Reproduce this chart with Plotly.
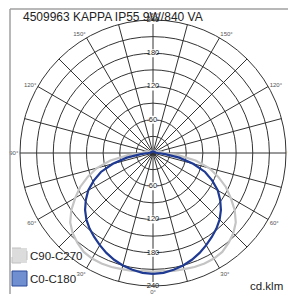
import plotly.graph_objects as go

TITLE = "4509963 KAPPA IP55 9W/840 VA"
UNIT = "cd.klm"
SERIES = ["C90-C270", "C0-C180"]

ANGLES = [0, 5, 10, 15, 20, 25, 30, 35, 40, 45, 50, 55, 60, 65, 70, 75, 80, 85, 90,
          95, 100, 105, 110, 120, 130, 140, 150, 160, 170, 180]
GRAY_R = [214, 214, 216, 217, 219, 220, 220, 218, 212, 205, 195, 180, 162, 145, 125, 105, 78, 45, 20,
          18, 15, 12, 9, 6, 5, 4, 4, 4, 4, 4]
BLUE_R = [218, 217, 214, 210, 205, 199, 192, 185, 178, 170, 160, 148, 135, 118, 100, 75, 48, 22, 9,
          6, 5, 4, 4, 3, 3, 3, 3, 3, 3, 3]

RADIAL_TICKS = [30, 60, 90, 120, 150, 180, 210, 240]
RADIAL_LABELS = [60, 120, 180, 240]
ANG_TICKS = list(range(0, 360, 15))
ANG_TEXT = [(f"{a if a <= 180 else 360 - a}°" if a % 30 == 0 else "") for a in ANG_TICKS]

def mirror(angles, rs):
    th = list(angles) + [360 - a for a in reversed(angles[:-1])]
    r = list(rs) + list(reversed(rs[:-1]))
    return th, r

fig = go.Figure()
th, r = mirror(ANGLES, GRAY_R)
fig.add_trace(go.Scatterpolar(theta=th, r=r, mode="lines",
                              line=dict(color="#c4c4c4", width=2.2), name=SERIES[0], showlegend=False))
th, r = mirror(ANGLES, BLUE_R)
fig.add_trace(go.Scatterpolar(theta=th, r=r, mode="lines",
                              line=dict(color="#1f3a93", width=2.2), name=SERIES[1], showlegend=False))

for ang in (180, 0):
    fig.add_trace(go.Scatterpolar(theta=[ang] * len(RADIAL_LABELS), r=RADIAL_LABELS,
                                  mode="markers+text", text=[str(v) for v in RADIAL_LABELS],
                                  marker=dict(symbol="square", size=8, color="white"),
                                  textposition="middle center",
                                  textfont=dict(family="Liberation Sans, Arial", size=7.5, color="#222"),
                                  showlegend=False, hoverinfo="skip"))

W, H = 288, 294
def px(x):
    return x / W
def py(y):
    return 1 - y / H

cx, cy, R = 153, 153, 133
fig.update_layout(
    width=W, height=H, margin=dict(l=0, r=0, t=0, b=0),
    paper_bgcolor="white", plot_bgcolor="white", showlegend=False,
    polar=dict(
        domain=dict(x=[px(cx - R), px(cx + R)], y=[py(cy + R), py(cy - R)]),
        bgcolor="white",
        angularaxis=dict(rotation=-90, direction="clockwise", tickmode="array",
                         tickvals=ANG_TICKS, ticktext=ANG_TEXT, showgrid=True,
                         gridcolor="#333", gridwidth=0.8, linecolor="#333", linewidth=1,
                         ticks="", tickfont=dict(family="Liberation Sans, Arial", size=6, color="#555")),
        radialaxis=dict(range=[0, 240], tickmode="array", tickvals=RADIAL_TICKS,
                        showticklabels=False, ticks="", showline=False,
                        gridcolor="#333", gridwidth=0.8),
    ),
    shapes=[
        dict(type="line", xref="paper", yref="paper", x0=px(10), x1=1, y0=py(9), y1=py(9),
             line=dict(color="#a0a0a0", width=1.5)),
        dict(type="line", xref="paper", yref="paper", x0=px(10), x1=px(10), y0=0, y1=py(9),
             line=dict(color="#a0a0a0", width=1.5)),
        dict(type="rect", xref="paper", yref="paper", x0=px(12), x1=px(27), y0=py(263), y1=py(248),
             fillcolor="#dcdcdc", line=dict(color="#c0c0c0", width=1, dash="dash")),
        dict(type="rect", xref="paper", yref="paper", x0=px(12), x1=px(27), y0=py(286), y1=py(271),
             fillcolor="#6f8fd0", line=dict(color="#2a4a9a", width=1)),
    ],
    annotations=[
        dict(text=TITLE, xref="paper", yref="paper", x=px(21), y=py(8), xanchor="left", yanchor="top",
             showarrow=False, font=dict(family="Liberation Sans, Arial", size=12, color="#222")),
        dict(text=SERIES[0], xref="paper", yref="paper", x=px(28), y=py(256), xanchor="left", yanchor="middle",
             showarrow=False, font=dict(family="Liberation Sans, Arial", size=11.5, color="#222")),
        dict(text=SERIES[1], xref="paper", yref="paper", x=px(28), y=py(279), xanchor="left", yanchor="middle",
             showarrow=False, font=dict(family="Liberation Sans, Arial", size=11.5, color="#222")),
        dict(text=UNIT, xref="paper", yref="paper", x=px(285), y=py(286), xanchor="right", yanchor="middle",
             showarrow=False, font=dict(family="Liberation Sans, Arial", size=11.5, color="#222")),
    ],
)
fig.write_html("out.html", config={"displayModeBar": False},
               post_script="document.body.style.margin='0';document.body.style.overflow='hidden';")
